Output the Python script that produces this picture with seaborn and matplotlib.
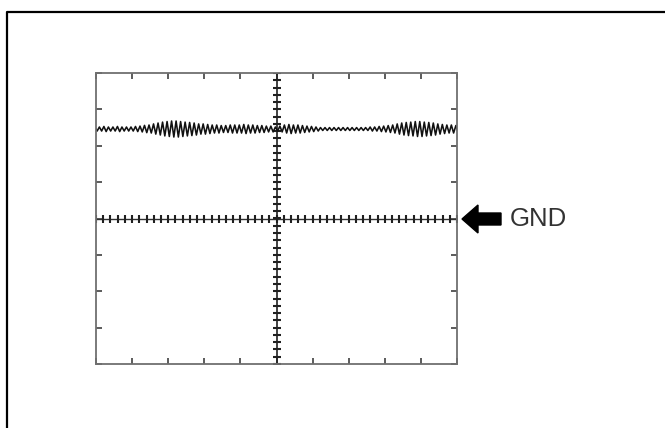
import numpy as np
import pandas as pd
import matplotlib
matplotlib.use("Agg")
import matplotlib.pyplot as plt
from matplotlib.lines import Line2D
from matplotlib.patches import Polygon
import seaborn as sns

sns.set_theme(style="white")
plt.rcParams['font.family'] = ['Liberation Sans', 'DejaVu Sans']

# ---- data (in screen divisions) ----
signal_level = 2.46          # trace offset above GND
# half-amplitude of the ripple, one value per 1/8 division from -5 to +5
ripple_amp = [
    0.055, 0.055, 0.07, 0.055, 0.055, 0.07, 0.055, 0.055,
    0.055, 0.07, 0.08, 0.10, 0.11, 0.14, 0.165, 0.19,
    0.205, 0.22, 0.22, 0.205, 0.19, 0.18, 0.165, 0.14,
    0.14, 0.125, 0.11, 0.11, 0.095, 0.095, 0.11, 0.11,
    0.11, 0.125, 0.11, 0.11, 0.095, 0.095, 0.08, 0.08,
    0.055, 0.08, 0.11, 0.125, 0.11, 0.11, 0.095, 0.08,
    0.07, 0.055, 0.04, 0.04, 0.04, 0.04, 0.04, 0.04,
    0.04, 0.04, 0.04, 0.04, 0.04, 0.055, 0.055, 0.07,
    0.08, 0.095, 0.11, 0.14, 0.165, 0.18, 0.19, 0.205,
    0.205, 0.19, 0.18, 0.165, 0.14, 0.125, 0.11, 0.11,
    0.095,
]
ripple_pos = np.linspace(-5, 5, len(ripple_amp))
gnd_label = "GND"

# build zigzag trace: each sample gives an upper and a lower point
xs, ys = [], []
step = ripple_pos[1] - ripple_pos[0]
for p, a in zip(ripple_pos, ripple_amp):
    xs += [p - step / 4, p + step / 4]
    ys += [signal_level + a, signal_level - a]
df = pd.DataFrame({"t": xs, "v": ys})

W, H = 665, 428
fig = plt.figure(figsize=(W / 100, H / 100), dpi=100)
fig.patch.set_facecolor("white")

# outer frame (top & left edges visible)
fig.add_artist(Line2D([7 / W, 7 / W, 1.0], [0.0, 1 - 12 / H, 1 - 12 / H],
                      transform=fig.transFigure, color="black", lw=1.6))

ax = fig.add_axes([96 / W, (H - 364) / H, 361 / W, 291 / H])
ax.set_xlim(-5, 5)
ax.set_ylim(-4, 4)
for s in ax.spines.values():
    s.set_color("#707070")
    s.set_linewidth(1.3)

ax.set_xticks(np.arange(-5, 6, 1))
ax.set_yticks(np.arange(-4, 5, 1))
ax.tick_params(axis="both", direction="in", length=4, width=1.2, color="#404040",
               top=True, right=True, left=True, bottom=True,
               labelbottom=False, labelleft=False)

# centre graticule with fine ticks
ax.axvline(0, color="#202020", lw=1.2)
ax.axhline(0, color="#303030", lw=1.0)
fine = np.arange(-5, 5.01, 0.2)
ax.plot(fine, np.zeros_like(fine), ls="none", marker="|", ms=6, mew=1.5, color="#202020")
fineY = np.arange(-4, 4.01, 0.2)
ax.plot(np.zeros_like(fineY), fineY, ls="none", marker="_", ms=6, mew=1.5, color="#202020")

# signal trace
sns.lineplot(data=df, x="t", y="v", sort=False, estimator=None,
             color="#111111", lw=1.15, ax=ax)
ax.set_xlabel("")
ax.set_ylabel("")

# GND arrow and label (figure pixel coords)
yc = H - 219
arrow = [(462, yc), (478, yc + 14), (478, yc + 6), (501, yc + 6),
         (501, yc - 6), (478, yc - 6), (478, yc - 14)]
fig.add_artist(Polygon([(x / W, y / H) for x, y in arrow], closed=True,
                       transform=fig.transFigure, color="black"))
fig.text(510 / W, yc / H, gnd_label, fontsize=18.5, color="#333333",
         va="center", ha="left")

fig.savefig("out.png", dpi=100, facecolor="white")
